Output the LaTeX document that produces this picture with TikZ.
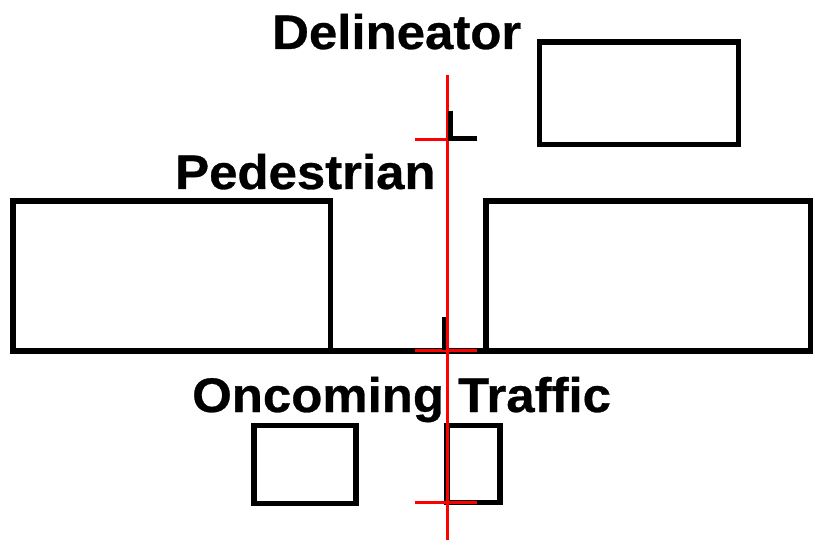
\documentclass[tikz,border=0pt]{standalone}
\usepackage{fontspec}
\setmainfont{Liberation Sans}[FakeStretch=1.05, FakeBold=0.6]
\usetikzlibrary{positioning}

\tikzset{
  box/.style={draw=black, line width=5.5pt, rectangle, inner sep=0pt, outer sep=0pt},
  heading/.style={anchor=base west, inner sep=0pt, font=\fontsize{48.5}{48.5}\selectfont\bfseries},
  redline/.style={draw=red, line width=3pt},
  mark line/.style={draw=black, line width=5pt}
}

\begin{document}
\begin{tikzpicture}[x=1pt, y=-1pt]
			\useasboundingbox (0,0) rectangle (813,540);

			% boxes
			\node[box, minimum width=199pt, minimum height=102.5pt] (delinbox) at (639,93.25) {};
			\node[box, minimum width=317.5pt, minimum height=150pt] (leftbox) at (171.75,276) {};
			\node[box, minimum width=325pt, minimum height=150pt] (rightbox) at (648.5,276) {};
			\node[box, minimum width=102pt, minimum height=78pt] (carbox) at (305,464.5) {};
			\node[box, minimum width=53pt, minimum height=77pt] (smallbox) at (473.5,464) {};

			\draw[line width=5.5pt] (leftbox.south east) -- (rightbox.south west);

			% texts
			\node[heading] (delin) at (272,49) {Delineator};
			\node[heading] (pedes) at (175,189) {Pedestrian};
			\node[heading] (oncoming) at (192,412) {Oncoming Traffic};

			% red guide line and ticks
			\coordinate (top) at (447,75);
			\coordinate (bottom) at (447,540);
			\coordinate (t1l) at (415,140);
			\coordinate (t1r) at (477,140);
			\coordinate (t2l) at (415,350);
			\coordinate (t2r) at (477,350);
			\coordinate (t3l) at (415,502);
			\coordinate (t3r) at (477,502);

			\path[redline]
			(top) edge (bottom)
			(t1l) edge (t1r)
			(t2l) edge (t2r)
			(t3l) edge (t3r);

			% black marks
			\coordinate (m1a) at (450,111);
			\coordinate (m1b) at (450,139);
			\coordinate (m1c) at (477,139);
			\coordinate (m2a) at (444,317);
			\coordinate (m2b) at (444,350);
			\draw[mark line] (m1a) -- (m1b) -- (m1c);
			\draw[line width=4pt] (m2a) -- (m2b);
		\end{tikzpicture}
\end{document}
